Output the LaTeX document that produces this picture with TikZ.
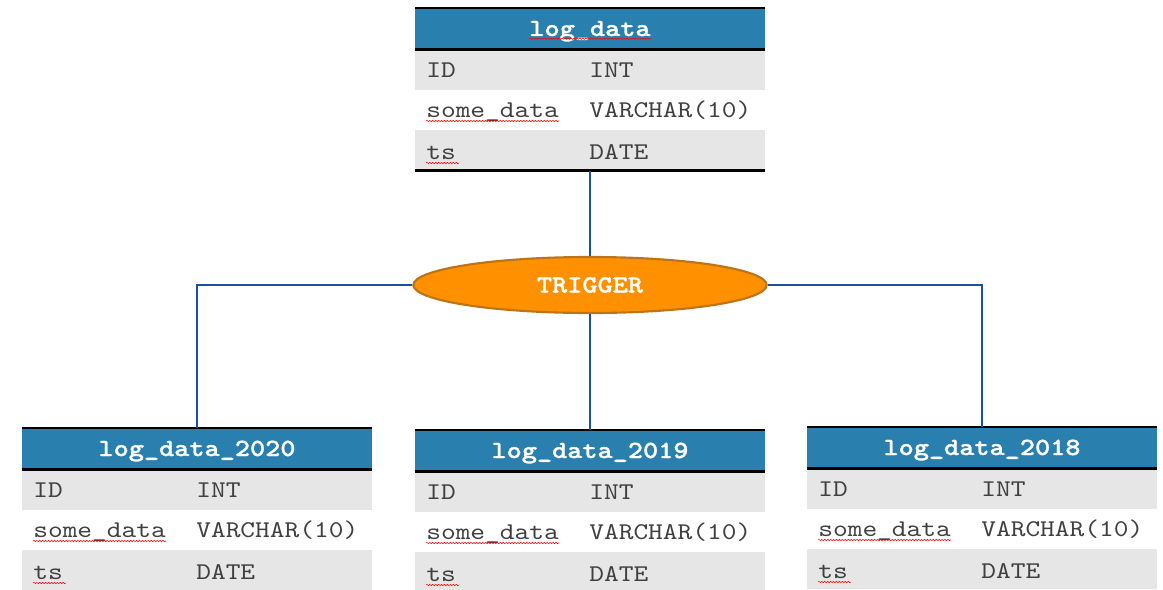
\documentclass[tikz,border=0pt]{standalone}
\usepackage{fontspec}
\usepackage{tikz}
\usetikzlibrary{shapes.geometric}
\usetikzlibrary{decorations.pathmorphing}

\newfontfamily\codefont{lmmono10-regular.otf}[BoldFont=lmmonolt10-bold.otf, BoldFeatures={FakeBold=1.2}, FakeStretch=1.17]

\definecolor{hdrblue}{RGB}{41,128,175}
\definecolor{rowgray}{RGB}{230,230,230}
\definecolor{txtgray}{RGB}{64,64,64}
\definecolor{trigfill}{RGB}{255,145,0}
\definecolor{trigedge}{RGB}{190,115,20}
\definecolor{linkblue}{RGB}{25,80,160}

\tikzset{
  hdr/.style={fill=hdrblue, minimum width=262.5pt, minimum height=30.75pt, inner sep=0pt, anchor=north},
  title/.style={text=white, font=\codefont\bfseries\fontsize{18.5}{20}\selectfont, inner sep=0pt, anchor=base},
  rowbox/.style={minimum width=262.5pt, minimum height=30pt, inner sep=0pt, anchor=north},
  cell/.style={text=txtgray, font=\codefont\fontsize{18}{20}\selectfont, inner sep=0pt, anchor=base west},
  rule/.style={black, line width=1.6pt},
  squig/.style={red, line width=0.4pt, decorate, decoration={snake, segment length=2.2pt, amplitude=0.5pt}},
  trigger/.style={ellipse, fill=trigfill, draw=trigedge, line width=1.6pt, minimum width=265pt, minimum height=42pt, inner sep=0pt, text=white, font=\codefont\bfseries\fontsize{18.5}{20}\selectfont},
  link/.style={draw=linkblue, line width=2pt},
}

% 表格: #1 名称, #2 左边 x, #3 顶边 y, #4 表名
\newcommand{\logtable}[4]{%
  \node[hdr] (#1) at ({#2+175},{#3}) {};
  \node[title] (#1-t) at ({#2+175},{#3+28}) {#4};
  \node[rowbox, fill=rowgray] (#1-r1) at ({#2+175},{#3+42}) {};
  \node[rowbox] (#1-r2) at ({#2+175},{#3+82}) {};
  \node[rowbox, fill=rowgray] (#1-r3) at ({#2+175},{#3+122}) {};
  \draw[rule] (#1.north west) -- (#1.north east);
  \draw[rule, line width=2.2pt] (#1.south west) -- (#1.south east);
  \node[cell] (#1-id) at ({#2+11},{#3+69}) {ID};
  \node[cell] (#1-int) at ({#2+174},{#3+69}) {INT};
  \node[cell] (#1-sd) at ({#2+11},{#3+109}) {some\_data};
  \node[cell] (#1-vc) at ({#2+174},{#3+109}) {VARCHAR(10)};
  \node[cell] (#1-ts) at ({#2+11},{#3+151}) {ts};
  \node[cell] (#1-dt) at ({#2+174},{#3+151}) {DATE};
  \draw[squig] ([yshift=-3pt]#1-sd.base west) -- ([yshift=-3pt]#1-sd.base east);
  \draw[squig] ([yshift=-3pt]#1-ts.base west) -- ([yshift=-3pt,xshift=2pt]#1-ts.base east);
}

\begin{document}
\begin{tikzpicture}[x=0.75pt, y=-0.75pt]
    \clip (0,0) rectangle (1163,589);

% 主表与分区表
    \logtable{top}{415}{8}{log\_data}
    \draw[rule] (top-r3.south west) -- (top-r3.south east);
    \draw[squig] ([yshift=-2pt]top-t.base west) -- ([yshift=-2pt]top-t.base east);
    \logtable{y2020}{22}{428}{log\_data\_2020}
    \logtable{y2019}{415}{430}{log\_data\_2019}
    \logtable{y2018}{807}{427}{log\_data\_2018}

% 触发器
    \node[trigger] (trig) at (590,285) {TRIGGER};

% 连接线
    \draw[link] (top-r3.south) -- (trig.north);
    \draw[link] (trig.south) -- (y2019.north);
    \draw[link] (trig.west) -| (y2020.north);
    \draw[link] (trig.east) -| (y2018.north);
\end{tikzpicture}
\end{document}
